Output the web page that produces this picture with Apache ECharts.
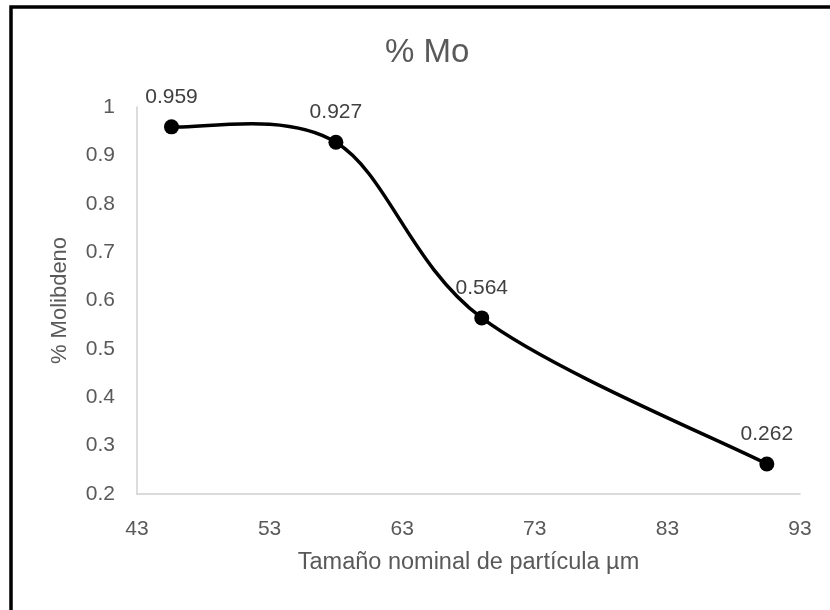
<!DOCTYPE html>
<html>
<head>
<meta charset="utf-8">
<script src="https://cdn.jsdelivr.net/npm/echarts@6/dist/echarts.min.js"></script>
<style>
  html, body { margin: 0; padding: 0; background: #fff; }
  #chart { width: 830px; height: 610px; }
</style>
</head>
<body>
<div id="chart"></div>
<script>
// Data
const sizes = [45.6, 58, 69, 90.5];              // Tamaño nominal de partícula (µm)
const molybdenum = [0.959, 0.927, 0.564, 0.262]; // % Mo
const xTickValues = [43, 53, 63, 73, 83, 93];
const titleText = '% Mo';
const xAxisTitle = 'Tamaño nominal de partícula µm';
const yAxisTitle = '% Molibdeno';

const font = 'Liberation Sans';
const textColor = '#595959';

const chart = echarts.init(document.getElementById('chart'), null, { renderer: 'canvas' });

// Excel-style smoothed line (Catmull-Rom, tension 1/6), drawn from data through the axes' scales
function renderSmoothLine(params, api) {
  if (params.dataIndex !== 0) return null;
  const pts = sizes.map((x, i) => api.coord([x, molybdenum[i]]));
  const n = pts.length;
  const path = [];
  path.push('M' + pts[0][0] + ' ' + pts[0][1]);
  for (let i = 0; i < n - 1; i++) {
    const p0 = pts[Math.max(i - 1, 0)];
    const p1 = pts[i];
    const p2 = pts[i + 1];
    const p3 = pts[Math.min(i + 2, n - 1)];
    const c1x = p1[0] + (p2[0] - p0[0]) / 6;
    const c1y = p1[1] + (p2[1] - p0[1]) / 6;
    const c2x = p2[0] - (p3[0] - p1[0]) / 6;
    const c2y = p2[1] - (p3[1] - p1[1]) / 6;
    path.push('C' + c1x + ' ' + c1y + ' ' + c2x + ' ' + c2y + ' ' + p2[0] + ' ' + p2[1]);
  }
  return {
    type: 'path',
    shape: { pathData: path.join(' ') },
    style: { fill: 'none', stroke: '#000000', lineWidth: 3.5, lineCap: 'round', lineJoin: 'round' }
  };
}

chart.setOption({
  backgroundColor: '#ffffff',
  animation: false,
  textStyle: { fontFamily: font },
  title: {
    text: titleText,
    left: 385,
    top: 36,
    padding: 0,
    textStyle: { fontFamily: font, fontSize: 33, fontWeight: 'normal', color: textColor }
  },
  graphic: [{
    type: 'rect',
    shape: { x: 11, y: 7, width: 840, height: 640 },
    style: { fill: 'none', stroke: '#000000', lineWidth: 3.5 },
    silent: true
  }],
  grid: { left: 137, right: 30, top: 107, bottom: 116, containLabel: false },
  xAxis: {
    type: 'value',
    min: 43,
    max: 93,
    name: xAxisTitle,
    nameLocation: 'middle',
    nameGap: 57,
    nameTextStyle: { fontFamily: font, fontSize: 23.5, color: textColor },
    axisLine: { show: true, lineStyle: { color: '#d0d0d0', width: 1.5 } },
    axisTick: { show: false },
    splitLine: { show: false },
    axisLabel: {
      customValues: xTickValues,
      fontFamily: font, fontSize: 21, color: textColor, margin: 25
    }
  },
  yAxis: {
    type: 'value',
    min: 0.2,
    max: 1,
    interval: 0.1,
    name: yAxisTitle,
    nameLocation: 'middle',
    nameGap: 66,
    nameRotate: 90,
    nameTextStyle: { fontFamily: font, fontSize: 22, color: textColor },
    axisLine: { show: true, lineStyle: { color: '#d0d0d0', width: 1.5 } },
    axisTick: { show: false },
    splitLine: { show: false },
    axisLabel: {
      fontFamily: font, fontSize: 21, color: textColor, margin: 22,
      formatter: v => String(Math.round(v * 10) / 10)
    }
  },
  series: [
    {
      type: 'custom',
      renderItem: renderSmoothLine,
      data: sizes.map((x, i) => [x, molybdenum[i]]),
      encode: { x: 0, y: 1 },
      silent: true,
      z: 2
    },
    {
      type: 'scatter',
      data: sizes.map((x, i) => [x, molybdenum[i]]),
      symbol: 'circle',
      symbolSize: 15,
      itemStyle: { color: '#000000', opacity: 1 },
      z: 3,
      label: {
        show: true,
        position: 'top',
        distance: 12,
        fontFamily: font,
        fontSize: 21,
        color: '#404040',
        formatter: p => String(p.value[1])
      }
    }
  ]
});
</script>
</body>
</html>
